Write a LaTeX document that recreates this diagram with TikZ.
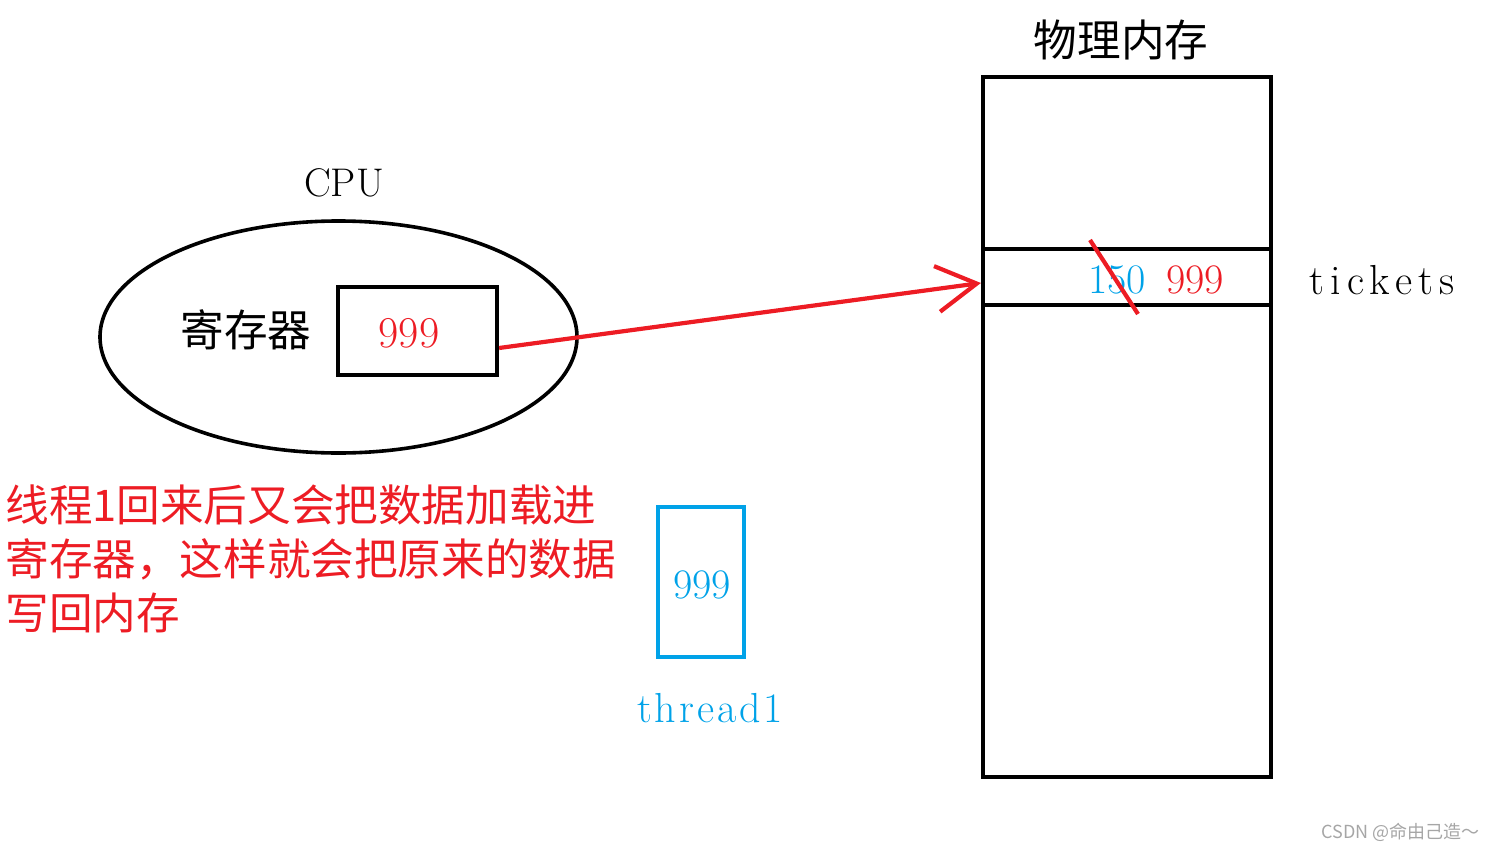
\documentclass[tikz,border=0pt]{standalone}
\usepackage{fontspec}
\newfontfamily\cjk{Noto Sans CJK SC}
\newfontfamily\wide[LetterSpace=15]{Latin Modern Roman}
\newfontfamily\semiwide[LetterSpace=7]{Latin Modern Roman}
\usetikzlibrary{arrows.meta,positioning,shapes.geometric}
\definecolor{paintred}{RGB}{237,28,36}
\definecolor{paintblue}{RGB}{0,162,232}

\begin{document}
\begin{tikzpicture}[
      x=0.5pt,y=-0.5pt,
      box/.style={draw, line width=2.1pt, inner sep=0pt},
      redline/.style={draw=paintred, line width=2.1pt},
      txt/.style={font=\fontsize{21}{27}\selectfont},
      cjktxt/.style={font=\cjk\fontsize{21.8}{27}\selectfont}
    ]
      \useasboundingbox (0,0) rectangle (1499,851);
      % memory column and the tickets cell
      \node[box, minimum width=144pt, minimum height=350pt] (mem) at (1127,427) {};
      \node[box, minimum width=144pt, minimum height=28pt] (cell) at (1127,277) {};
      \node[cjktxt] (memlabel) at (1121,40) {物理内存};
      \node[txt, text=paintblue] (old) at (1117,280) {150};
      \node[txt, text=paintred] (new) at (1195,280) {999};
      \node[txt, font=\wide\fontsize{21}{27}\selectfont] (tickets) at (1382,280) {tickets};
      \draw[redline] (1090,240) -- (1138,314);
      % CPU with its register
      \node[draw, ellipse, line width=1.8pt, inner sep=0pt, minimum width=238.5pt, minimum height=116pt] (cpu) at (338.5,337) {};
      \node[txt, font=\fontsize{20}{24}\selectfont] (cpulabel) at (344,183) {CPU};
      \node[box, minimum width=79.5pt, minimum height=44pt] (reg) at (417.5,331) {};
      \node[txt, text=paintred, font=\fontsize{22}{26}\selectfont] (regval) at (409,333) {999};
      \node[cjktxt] (reglabel) at (246,330) {寄存器};
      \draw[redline, -{Straight Barb[length=20pt, width=23pt]}] ([yshift=-8.5pt]reg.east) -- ([yshift=-3pt]cell.west);
      % thread context
      \node[box, draw=paintblue, minimum width=43pt, minimum height=75pt] (ctx) at (701,582) {};
      \node[txt, text=paintblue] (ctxval) at (702,585) {999};
      \node[txt, text=paintblue, font=\semiwide\fontsize{21}{27}\selectfont] (thread) at (710,708) {thread1};
      \node[cjktxt, text=paintred, anchor=north west, align=left, inner sep=0pt] (note) at (5,484)
        {线程1回来后又会把数据加载进\\寄存器，这样就会把原来的数据\\写回内存};
      \node[font=\cjk\fontsize{9}{11}\selectfont, text=gray!70, anchor=east] (mark) at (1487,832) {CSDN @命由己造～};
    \end{tikzpicture}
\end{document}
